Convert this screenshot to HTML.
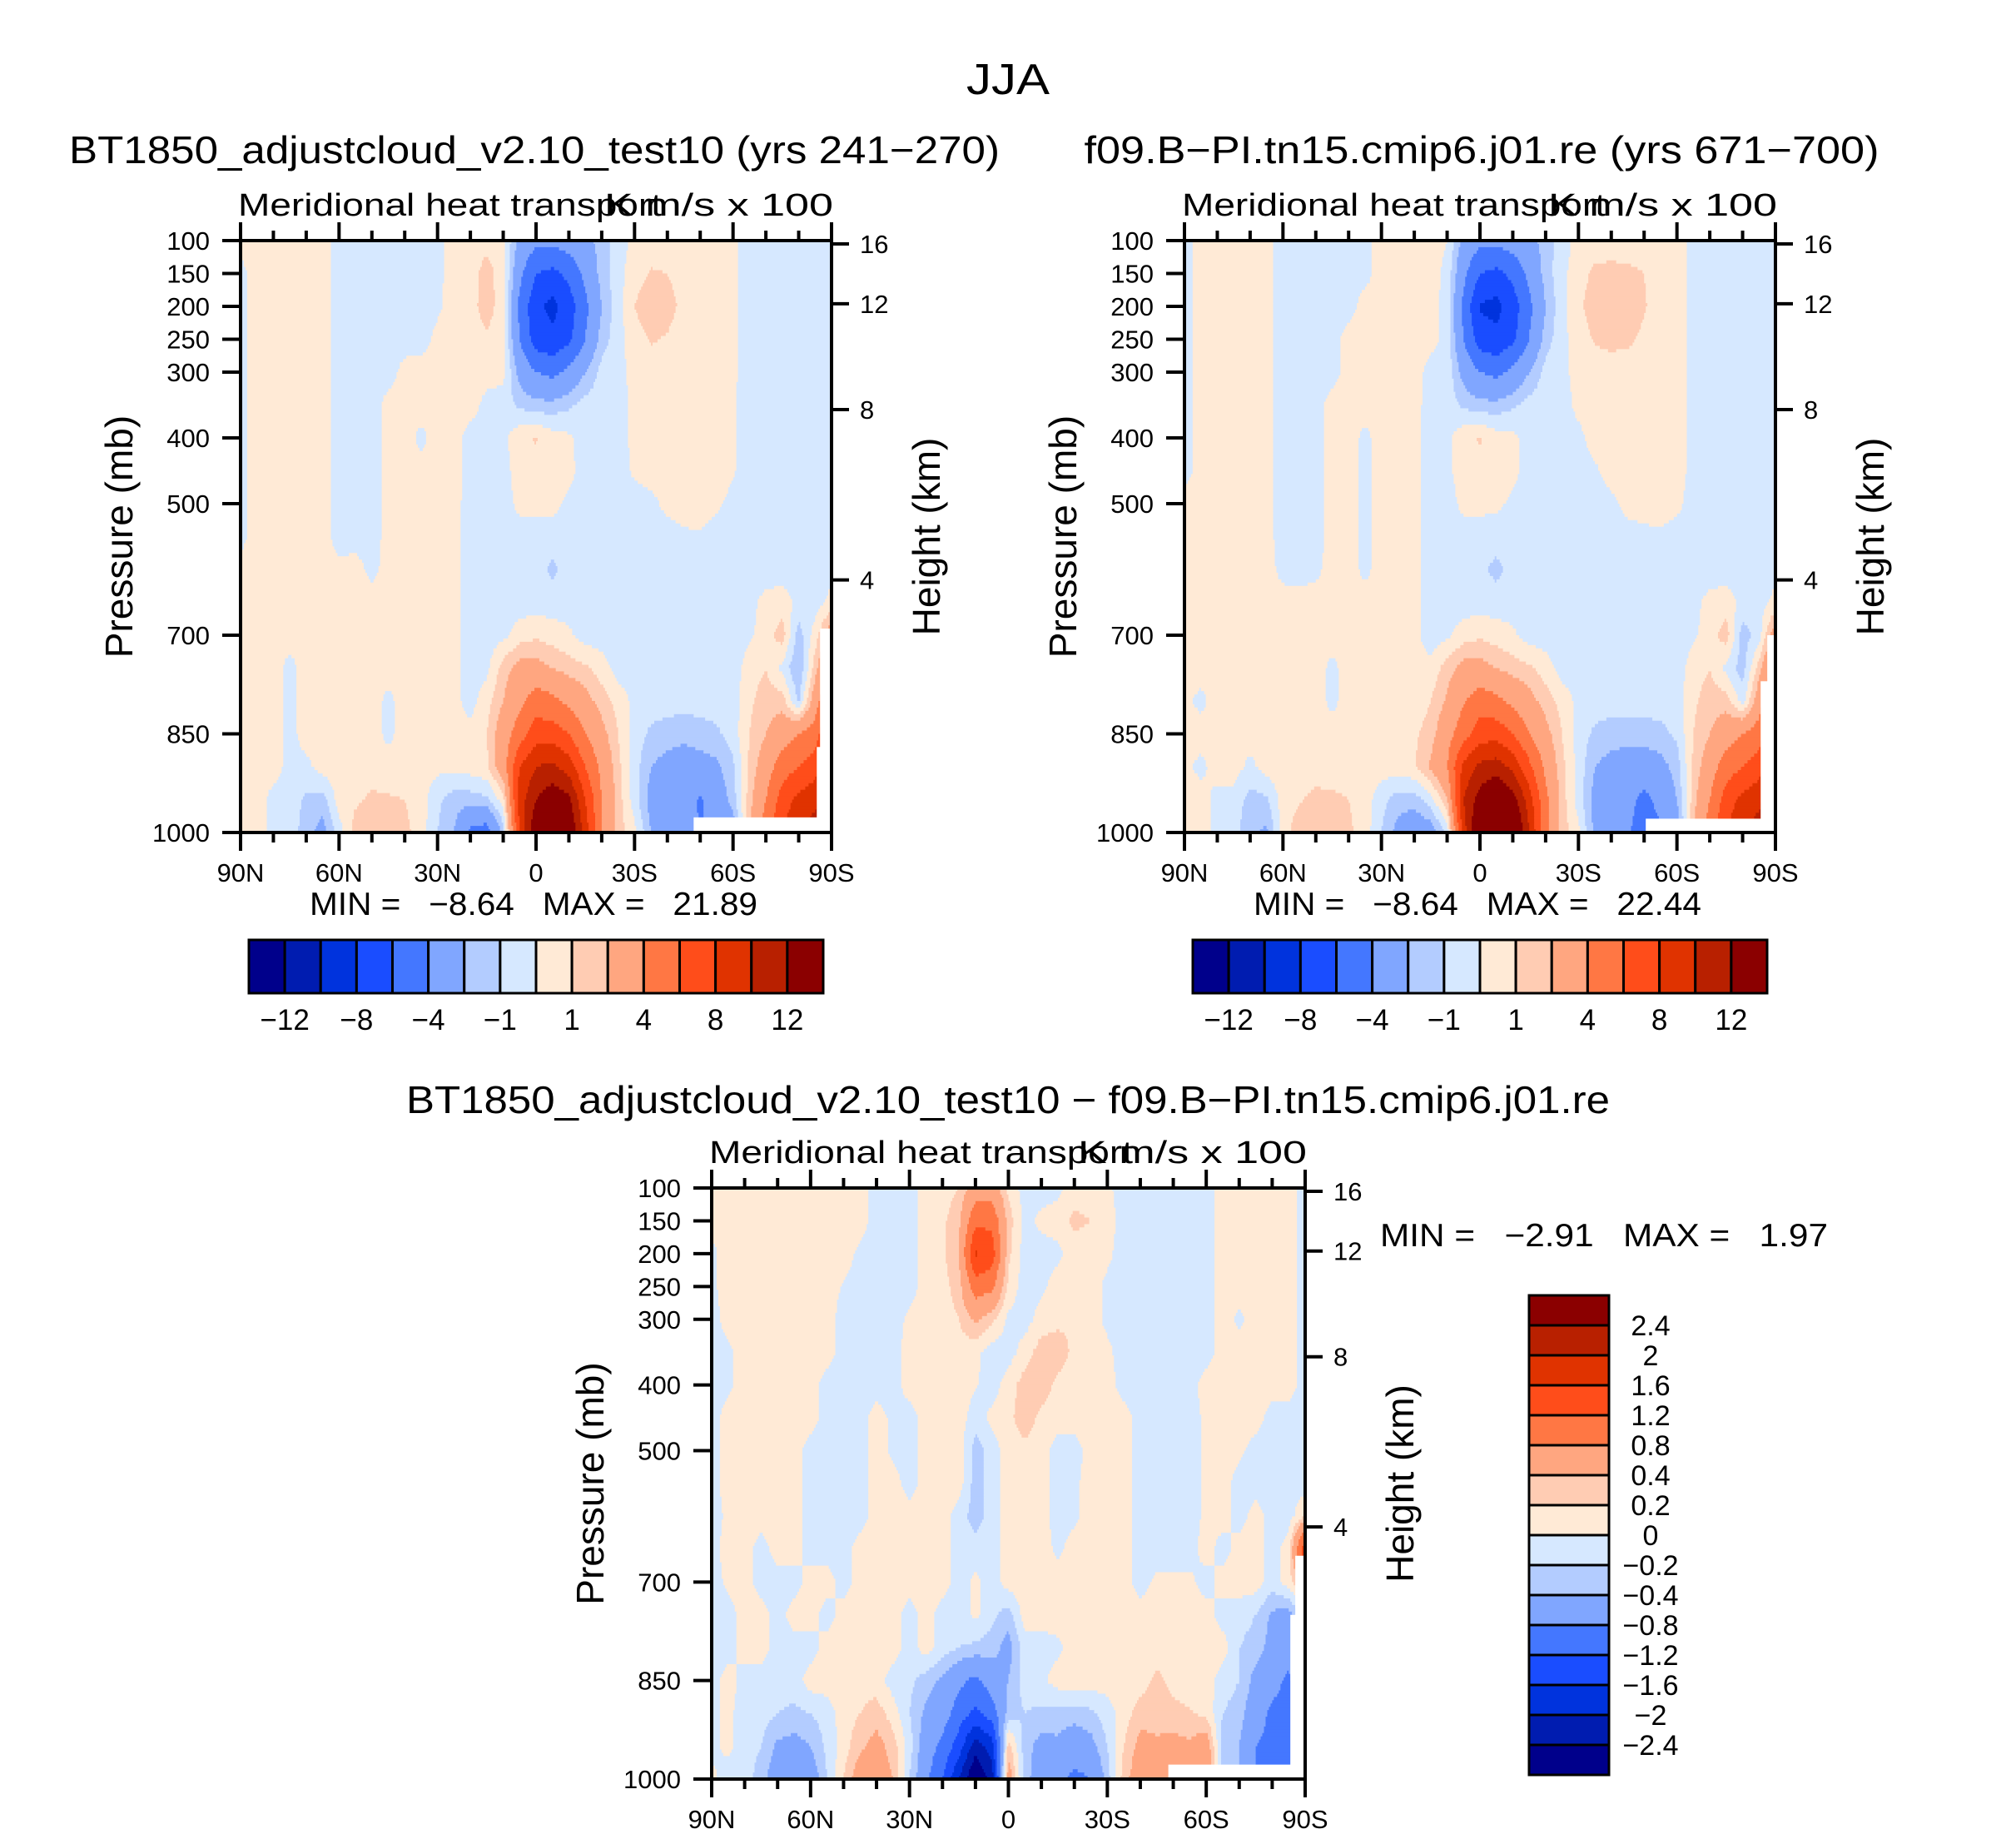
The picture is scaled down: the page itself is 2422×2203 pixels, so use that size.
<!DOCTYPE html>
<html><head><meta charset="utf-8"><title>JJA Meridional heat transport</title>
<style>
html,body{margin:0;padding:0;background:#fff;}
svg{display:block;font-family:"Liberation Sans",sans-serif;}
text{fill:#000;}
</style></head>
<body>
<svg id="fig" xmlns="http://www.w3.org/2000/svg" width="2422" height="2203" viewBox="0 0 2422 2203">
<rect x="0" y="0" width="2422" height="2203" fill="#fff"/>
<text x="1211" y="113" font-size="52" text-anchor="middle" textLength="100" lengthAdjust="spacingAndGlyphs">JJA</text>
<text x="642" y="196" font-size="46" text-anchor="middle" textLength="1118" lengthAdjust="spacingAndGlyphs">BT1850_adjustcloud_v2.10_test10 (yrs 241−270)</text>
<text x="1780" y="196" font-size="46" text-anchor="middle" textLength="955" lengthAdjust="spacingAndGlyphs">f09.B−PI.tn15.cmip6.j01.re (yrs 671−700)</text>
<text x="1211" y="1337" font-size="46" text-anchor="middle" textLength="1446" lengthAdjust="spacingAndGlyphs">BT1850_adjustcloud_v2.10_test10 − f09.B−PI.tn15.cmip6.j01.re</text>
<g id="layer"></g>
</svg>
<script>
const lats = [90,85,80,75,70,65,60,55,50,45,40,35,30,25,20,15,10,5,0,-5,-10,-15,-20,-25,-30,-35,-40,-45,-50,-55,-60,-65,-70,-75,-80,-85,-90];
const pressures = [100,150,200,250,300,350,400,450,500,550,600,650,700,750,800,850,900,950,1000];
const levels1 = [-12,-10,-8,-6,-4,-2,-1,0,1,2,4,6,8,10,12];
const levels3 = [-2.4,-2,-1.6,-1.2,-0.8,-0.4,-0.2,0,0.2,0.4,0.8,1.2,1.6,2,2.4];
const fillColors = ['#00008b','#001cb0','#0033dd','#1a4dff','#4477ff','#80a6ff','#b3ccff','#d6e8ff','#ffead6','#ffccb3','#ffa680','#ff7744','#ff4d1a','#e03300','#b82000','#8b0000'];
const cbar1Labels = ['−12','−8','−4','−1','1','4','8','12'];
const cbar3Labels = ['2.4','2','1.6','1.2','0.8','0.4','0.2','0','−0.2','−0.4','−0.8','−1.2','−1.6','−2','−2.4'];
const pressureTicks = [100,150,200,250,300,400,500,700,850,1000];
const kmTickPressures = [105,196,357,616];
const kmLabels = ['16','12','8','4'];
const latTicks = [90,80,70,60,50,40,30,20,10,0,-10,-20,-30,-40,-50,-60,-70,-80,-90];
const latLabelValues = [90,60,30,0,-30,-60,-90];
const latLabelText = ['90N','60N','30N','0','30S','60S','90S'];
const minMax1 = ['−8.64','21.89'];
const minMax2 = ['−8.64','22.44'];
const minMax3 = ['−2.91','1.97'];

const p1Values = [
[0.3,0.5,0.5,0.5,0.5,0.5,-0.5,-0.5,-0.5,-0.5,-0.5,-0.5,-0.3,0.5,0.5,0.7,0.3,-2.5,-3.5,-3.5,-3,-2.5,-1.5,-0.5,0.3,0.5,0.5,0.5,0.5,0.5,0.2,-0.5,-0.5,-0.5,-0.5,-0.5,-0.3],
[-0.3,0.5,0.5,0.5,0.5,0.5,-0.5,-0.5,-0.5,-0.5,-0.5,-0.5,-0.3,0.5,0.6,1.4,0.5,-3.5,-6,-6.5,-5.5,-3.5,-1.5,-0.4,0.6,1.1,1.0,0.6,0.5,0.5,0.2,-0.5,-0.5,-0.5,-0.5,-0.5,-0.3],
[-0.3,0.5,0.5,0.5,0.5,0.5,-0.5,-0.5,-0.5,-0.5,-0.5,-0.5,-0.2,0.5,0.6,1.5,0.4,-4.5,-7.5,-8.6,-7,-4.5,-2,-0.4,1.0,1.6,1.4,0.7,0.5,0.5,0.2,-0.5,-0.5,-0.5,-0.5,-0.5,-0.3],
[-0.3,0.5,0.5,0.5,0.5,0.5,-0.5,-0.5,-0.5,-0.5,-0.5,-0.5,0.3,0.5,0.5,0.8,0.4,-4,-7,-7.5,-6.5,-4,-1.5,-0.4,0.6,1.1,0.9,0.5,0.5,0.5,0.2,-0.5,-0.5,-0.5,-0.5,-0.5,-0.3],
[-0.3,0.5,0.5,0.5,0.5,0.5,-0.5,-0.5,-0.5,-0.5,0.4,0.5,0.5,0.5,0.5,0.5,0.3,-2.5,-4,-4.5,-3.5,-2,-0.6,-0.4,0.4,0.5,0.5,0.5,0.5,0.5,0.2,-0.5,-0.5,-0.5,-0.5,-0.5,-0.3],
[-0.3,0.5,0.5,0.5,0.5,0.5,-0.5,-0.5,-0.5,0.4,0.5,0.5,0.5,0.5,0.5,-0.4,-0.5,-1.2,-1.6,-1.6,-1.2,-0.6,-0.5,-0.5,0.3,0.5,0.5,0.5,0.5,0.5,0.1,-0.5,-0.5,-0.5,-0.5,-0.5,-0.3],
[-0.3,0.5,0.5,0.5,0.5,0.5,-0.5,-0.5,-0.5,0.4,0.5,-0.3,0.5,0.5,-0.5,-0.5,-0.3,0.7,1.1,0.5,0.2,-0.5,-0.5,-0.5,0.3,0.5,0.5,0.5,0.5,0.5,0.1,-0.5,-0.5,-0.5,-0.5,-0.5,-0.3],
[-0.3,0.5,0.5,0.5,0.5,0.5,-0.5,-0.5,-0.5,0.4,0.5,0.4,0.5,0.5,-0.5,-0.5,-0.4,0.5,0.6,0.5,0.3,-0.5,-0.5,-0.5,0.2,0.5,0.5,0.5,0.5,0.5,0.1,-0.5,-0.5,-0.5,-0.5,-0.5,-0.3],
[-0.3,0.5,0.5,0.5,0.5,0.5,-0.5,-0.5,-0.5,0.4,0.5,0.5,0.5,0.4,-0.5,-0.5,-0.5,0.3,0.4,0.3,-0.2,-0.5,-0.5,-0.5,-0.5,-0.3,0.3,0.5,0.5,0.2,-0.3,-0.5,-0.5,-0.5,-0.5,-0.5,-0.3],
[-0.3,0.5,0.5,0.5,0.5,0.5,-0.5,-0.4,-0.5,0.4,0.5,0.5,0.5,0.4,-0.5,-0.5,-0.5,-0.5,-0.5,-0.5,-0.5,-0.5,-0.5,-0.5,-0.5,-0.5,-0.5,-0.2,-0.1,-0.5,-0.5,-0.5,-0.5,-0.5,-0.5,-0.5,-0.3],
[0.3,0.5,0.5,0.5,0.5,0.5,0.3,0.4,-0.3,0.4,0.5,0.5,0.5,0.4,-0.5,-0.5,-0.5,-0.5,-0.7,-1.2,-0.6,-0.5,-0.5,-0.5,-0.5,-0.5,-0.5,-0.5,-0.5,-0.5,-0.5,-0.5,-0.5,-0.5,-0.5,-0.5,-0.3],
[0.3,0.5,0.5,0.5,0.5,0.5,0.5,0.5,0.4,0.5,0.5,0.5,0.5,0.3,-0.5,-0.5,-0.5,-0.5,-0.5,-0.5,-0.5,-0.5,-0.5,-0.5,-0.5,-0.5,-0.5,-0.5,-0.5,-0.5,-0.5,-0.3,0.3,0.5,-0.3,-0.5,0.3],
[0.3,0.5,0.5,0.5,0.5,0.5,0.5,0.5,0.5,0.5,0.5,0.5,0.5,0.3,-0.5,-0.5,-0.3,0.5,0.8,0.5,0.2,-0.5,-0.5,-0.5,-0.5,-0.5,-0.5,-0.5,-0.5,-0.5,-0.5,-0.2,0.5,1.5,-1.5,0.5,3],
[0.3,0.5,0.5,-0.4,0.5,0.5,0.5,0.5,0.5,0.5,0.5,0.5,0.5,0.3,-0.5,-0.3,1.5,2.5,2.5,2,1.5,1.2,0.5,-0.5,-0.5,-0.5,-0.5,-0.5,-0.5,-0.5,-0.5,0.5,1.0,-0.3,-2,1.5,5],
[0.3,0.5,0.5,-0.4,0.5,0.5,0.5,0.5,0.5,-0.3,0.5,0.5,0.5,0.3,-0.4,0.6,2,3.5,5,4.5,3.5,2.5,1.5,0.6,-0.3,-0.5,-0.5,-0.5,-0.5,-0.5,-0.5,0.8,1.5,1.5,-1.2,3,7],
[0.3,0.5,0.5,-0.4,0.5,0.5,0.5,0.5,0.5,-0.3,0.5,0.5,0.5,0.3,0.3,1.0,3,5,7,7,6,4,2.5,1,-0.5,-1.2,-1.5,-1.8,-1.5,-1.2,-0.5,1,2,3,4,5,9],
[0.3,0.5,0.5,-0.4,-0.3,0.5,0.5,0.5,0.5,0.5,0.5,0.5,0.3,0.3,0.5,0.8,3,8,10,10.5,9,6,3.5,1.3,-0.5,-2,-2.5,-2.5,-2.5,-2.3,-1.2,1.2,3,5,6,7,11],
[0.3,0.5,-0.4,-0.4,-1.2,-1.5,0.5,0.8,1.2,1.1,1.0,0.5,-0.8,-1.5,-1.5,-1.2,0.5,9,12,13.5,12.5,8,4,1.5,-0.5,-2.5,-3,-3.2,-4.2,-3,-1.5,1.5,4,7,8.5,9.5,12],
[0.3,0.5,-0.4,-0.5,-1.5,-2.5,-0.5,1.5,1.8,1.5,1.3,0.5,-1,-2,-4.5,-5,-1.5,8,14,15,14.5,9,4,1.5,0.3,-2,-3,-3.5,-4,-4,-3,2,5,8,10,11,12]
];

const p2Values = [
[-0.3,0.3,0.5,0.5,0.5,0.3,-0.5,-0.5,-0.5,-0.5,-0.5,-0.4,0.5,0.5,0.5,0.3,0.0,-2.5,-3.5,-3.5,-3,-2.5,-1.5,-0.5,0.4,0.5,0.5,0.5,0.5,0.5,0.4,-0.3,-0.5,-0.5,-0.5,-0.5,-0.3],
[-0.3,0.3,0.5,0.5,0.5,0.3,-0.5,-0.5,-0.5,-0.5,-0.5,-0.4,0.5,0.5,0.5,0.3,-0.2,-3.5,-6,-6.5,-5.5,-3.5,-1.5,-0.3,0.6,1.2,1.3,1.2,1.0,0.5,0.4,-0.3,-0.5,-0.5,-0.5,-0.5,-0.3],
[-0.3,0.3,0.5,0.5,0.5,0.3,-0.5,-0.5,-0.5,-0.5,-0.5,0.5,0.5,0.5,0.5,0.3,-0.3,-4.5,-8.2,-8.6,-7,-4.5,-2,-0.3,0.8,1.5,1.6,1.5,1.1,0.5,0.4,-0.3,-0.5,-0.5,-0.5,-0.5,-0.3],
[-0.3,0.3,0.5,0.5,0.5,0.3,-0.5,-0.5,-0.5,-0.5,0.5,0.5,0.5,0.5,0.5,0.3,-0.3,-4,-7,-7.5,-6.5,-4,-1.5,-0.3,0.5,1.1,1.3,1.2,0.8,0.5,0.4,-0.3,-0.5,-0.5,-0.5,-0.5,-0.3],
[-0.3,0.3,0.5,0.5,0.5,0.3,-0.5,-0.5,-0.5,-0.5,0.5,0.5,0.5,0.5,0.5,-0.4,-0.3,-2.5,-4,-4.5,-3.5,-2,-0.6,-0.3,0.4,0.5,0.5,0.5,0.5,0.5,0.4,-0.3,-0.5,-0.5,-0.5,-0.5,-0.3],
[-0.3,0.3,0.5,0.5,0.5,0.3,-0.5,-0.5,-0.5,0.5,0.5,0.5,0.5,0.5,0.4,-0.5,-0.5,-1.2,-1.6,-1.6,-1.2,-0.6,-0.5,-0.5,0.3,0.5,0.5,0.5,0.5,0.5,0.4,-0.3,-0.5,-0.5,-0.5,-0.5,-0.3],
[-0.3,0.3,0.5,0.5,0.5,0.3,-0.5,-0.5,-0.5,0.5,0.5,-0.3,0.5,0.5,0.4,-0.5,-0.3,0.7,1.1,0.5,0.3,-0.5,-0.5,-0.5,-0.3,0.5,0.5,0.5,0.5,0.5,0.4,-0.3,-0.5,-0.5,-0.5,-0.5,-0.3],
[-0.3,0.3,0.5,0.5,0.5,0.3,-0.5,-0.5,-0.5,0.5,0.5,-0.3,0.5,0.5,0.4,-0.5,-0.3,0.6,0.7,0.5,0.3,-0.5,-0.5,-0.5,-0.5,-0.2,0.5,0.5,0.5,0.5,0.4,-0.3,-0.5,-0.5,-0.5,-0.5,-0.3],
[0.3,0.5,0.5,0.5,0.5,0.3,-0.5,-0.5,-0.5,0.5,0.5,-0.3,0.5,0.5,0.4,-0.5,-0.5,0.3,0.3,0.2,-0.2,-0.5,-0.5,-0.5,-0.5,-0.5,-0.3,0.4,0.5,0.5,0.3,-0.5,-0.5,-0.5,-0.5,-0.5,-0.3],
[0.3,0.5,0.5,0.5,0.5,0.4,-0.5,-0.5,-0.5,0.5,0.5,-0.3,0.5,0.5,0.4,-0.5,-0.5,-0.5,-0.5,-0.5,-0.5,-0.5,-0.5,-0.5,-0.5,-0.5,-0.5,-0.5,-0.3,-0.2,-0.5,-0.5,-0.5,-0.5,-0.5,-0.5,-0.3],
[0.3,0.5,0.5,0.5,0.5,0.5,-0.4,-0.5,-0.3,0.5,0.5,-0.3,0.5,0.5,0.4,-0.5,-0.5,-0.5,-0.7,-1.3,-0.6,-0.5,-0.5,-0.5,-0.5,-0.5,-0.5,-0.5,-0.5,-0.5,-0.5,-0.5,-0.5,-0.5,-0.5,-0.5,-0.3],
[0.3,0.5,0.5,0.5,0.5,0.5,0.5,0.5,0.5,0.5,0.5,0.5,0.5,0.5,0.4,-0.5,-0.5,-0.5,-0.5,-0.5,-0.5,-0.5,-0.5,-0.5,-0.5,-0.5,-0.5,-0.5,-0.5,-0.5,-0.5,-0.3,0.3,0.5,-0.3,-0.5,0.3],
[0.3,0.5,0.5,0.5,0.5,0.5,0.5,0.5,0.5,0.5,0.5,0.5,0.5,0.5,0.3,-0.5,-0.2,0.5,0.8,0.5,0.2,-0.5,-0.5,-0.5,-0.5,-0.5,-0.5,-0.5,-0.5,-0.5,-0.5,-0.2,0.5,1.5,-1.5,-0.5,3],
[0.3,0.5,0.5,0.5,0.5,0.5,0.5,0.5,0.5,-0.3,0.5,0.5,0.5,0.5,0.3,0.3,1.5,2.5,2.5,2,1.5,1.2,0.5,-0.5,-0.5,-0.5,-0.5,-0.5,-0.5,-0.5,-0.5,0.5,1.0,-0.3,-1.5,1.5,5],
[0.3,-0.3,0.5,0.5,0.5,0.5,0.5,0.5,0.5,-0.3,0.5,0.5,0.5,0.5,0.3,1.0,2.2,3.8,5,4.5,3.5,2.5,1.5,0.6,-0.3,-0.5,-0.5,-0.5,-0.5,-0.5,-0.5,0.8,1.5,1.5,-0.5,3,7],
[0.3,0.5,0.5,0.5,0.5,0.5,0.5,0.5,0.5,0.5,0.5,0.5,0.5,0.4,0.8,1.5,3.2,5.2,7,7.2,6,4,2.5,1,-0.5,-1.2,-1.5,-1.6,-1.5,-1.3,-0.8,1,2,3,4,5,9],
[0.3,-0.3,0.5,0.5,-0.3,0.5,0.5,0.5,0.5,0.5,0.5,0.5,0.5,0.5,0.9,2.2,4,8.5,10.5,11,9.5,6.5,3.5,1.3,-0.3,-2,-2.5,-2.6,-2.8,-2.5,-1.5,1.2,3,5,6,7,11],
[0.3,0.5,-0.4,-0.4,-1.4,-1.2,0.5,0.9,1.3,1.2,1.0,0.5,-0.6,-1.5,-1.5,-0.5,2,10,13,14.5,13,9,4.5,1.5,-0.5,-2.5,-3,-3.5,-4.5,-3.5,-2,1.5,4,7,8.5,9.5,12],
[0.3,0.5,-0.4,-0.5,-1.8,-2.2,0.5,1.6,1.9,1.6,1.2,0.5,-1,-2.5,-3.2,-2.8,-0.8,9,15,17,15.5,10,4.5,1.5,0.3,-2.3,-3,-3.8,-4.8,-4.2,-3,2,5,8,10,11,12]
];

const p3Values = [
[0.1,0.1,0.1,0.1,0.1,0.1,0.1,0.1,0.1,0.1,-0.1,-0.1,-0.1,0.1,0.1,0.2,0.6,0.6,0.15,-0.1,-0.1,-0.05,0.1,0.1,0.05,-0.1,-0.1,-0.1,-0.1,-0.1,-0.1,0.1,0.1,0.1,0.1,0.1,-0.1],
[0.05,0.1,0.1,0.1,0.1,0.1,0.1,0.1,0.1,0.1,-0.1,-0.1,-0.1,0.1,0.15,0.35,1.1,1.1,0.3,-0.05,0.05,0.1,0.25,0.2,0.1,-0.1,-0.1,-0.1,-0.1,-0.1,-0.1,0.1,0.1,0.1,0.1,0.1,-0.1],
[-0.05,0.1,0.1,0.1,0.1,0.1,0.1,0.1,0.1,-0.05,-0.1,-0.1,-0.1,0.1,0.15,0.4,1.65,1.4,0.25,-0.1,-0.1,-0.05,0.1,0.1,0.05,-0.1,-0.1,-0.1,-0.1,-0.1,-0.1,0.1,0.1,0.1,0.1,0.1,-0.1],
[-0.05,0.1,0.1,0.1,0.1,0.1,0.1,0.1,-0.02,-0.1,-0.1,-0.1,-0.1,0.1,0.12,0.3,1.0,0.9,0.15,-0.1,-0.05,0.1,0.1,0.1,-0.05,-0.1,-0.1,-0.1,-0.1,-0.1,-0.1,0.1,0.1,0.1,0.1,0.1,-0.1],
[-0.1,0.1,0.1,0.1,0.1,0.1,0.1,0.1,-0.1,-0.1,-0.1,-0.1,0.05,0.1,0.1,0.2,0.45,0.25,-0.05,-0.1,0.1,0.15,0.2,0.1,-0.05,-0.1,-0.1,-0.1,-0.1,-0.1,-0.1,0.1,-0.05,0.1,0.1,0.1,-0.1],
[-0.1,-0.05,0.1,0.1,0.1,0.1,0.1,0.1,-0.1,-0.1,-0.1,-0.1,0.1,0.1,0.1,0.1,0.05,-0.1,-0.1,0.1,0.3,0.3,0.15,0.1,0.05,-0.1,-0.1,-0.1,-0.1,-0.1,-0.1,0.1,0.1,0.1,0.1,0.1,-0.1],
[-0.1,-0.05,0.1,0.1,0.1,0.1,0.1,-0.1,-0.1,-0.1,-0.1,-0.1,0.1,0.1,0.1,0.1,0.02,-0.1,0.1,0.3,0.3,0.15,0.1,0.1,0.1,-0.1,-0.1,-0.1,-0.1,-0.1,0.1,0.1,0.1,0.1,0.1,0.1,-0.1],
[-0.1,0.1,0.1,0.1,0.1,0.1,0.1,-0.1,-0.1,-0.1,0.1,-0.05,-0.1,0.1,0.1,0.1,-0.1,0.05,0.15,0.3,0.15,0.1,0.1,0.1,0.1,0.1,-0.1,-0.1,-0.1,-0.1,0.05,0.1,0.1,0.1,-0.1,-0.1,-0.1],
[-0.1,0.1,0.1,0.1,0.1,0.1,-0.1,-0.1,-0.1,-0.1,0.1,-0.05,-0.1,0.1,0.1,0.1,-0.3,-0.1,0.1,0.15,0.1,-0.1,-0.1,0.1,0.1,0.1,-0.1,-0.1,-0.1,-0.1,0.05,0.1,0.05,-0.1,-0.1,-0.1,-0.1],
[-0.1,0.1,0.1,0.1,0.1,0.1,-0.1,-0.1,-0.1,-0.1,0.1,0.1,-0.1,0.1,0.1,0.1,-0.3,-0.1,0.1,0.1,0.1,-0.1,-0.05,0.1,0.1,0.1,-0.1,-0.1,-0.1,-0.1,0.05,0.1,-0.1,-0.1,-0.1,-0.1,-0.1],
[-0.1,0.05,0.1,0.1,0.1,0.1,-0.1,-0.1,-0.1,-0.1,0.1,0.1,0.1,0.1,0.1,-0.1,-0.3,-0.1,0.1,0.1,0.1,-0.1,-0.05,0.1,0.1,0.1,-0.1,-0.1,-0.1,-0.1,0.05,0.1,-0.1,0.1,-0.1,-0.1,0.2],
[-0.1,0.1,0.1,-0.1,0.1,0.1,-0.1,-0.1,-0.1,0.1,0.1,0.1,0.1,0.1,0.1,-0.1,-0.1,-0.1,0.1,0.1,0.1,-0.05,0.1,0.1,0.1,0.1,-0.1,-0.1,-0.1,-0.1,0.1,-0.1,0.1,0.1,-0.1,0.1,1.6],
[-0.1,0.05,0.1,-0.1,-0.1,-0.1,0.1,0.1,-0.1,0.1,0.1,0.1,0.1,0.1,0.1,-0.1,0.05,-0.1,0.1,0.1,0.1,0.1,0.1,0.1,0.1,0.1,-0.1,0.05,0.05,0.05,-0.1,0.1,0.1,0.1,-0.1,0.1,0.5],
[-0.1,-0.1,0.1,0.1,-0.1,0.1,0.1,-0.1,0.1,0.1,0.1,0.1,-0.1,0.1,-0.1,-0.1,0.05,-0.15,-0.3,0.1,0.1,0.1,0.1,0.1,0.1,0.1,0.1,0.1,0.1,0.1,0.1,-0.1,-0.1,-0.2,-0.45,-0.5,-0.1],
[-0.1,-0.1,0.1,0.1,-0.1,-0.1,-0.1,0.1,0.1,0.1,0.1,0.1,-0.1,0.1,-0.1,-0.2,-0.25,-0.3,-0.5,-0.1,-0.1,-0.05,0.1,0.1,0.1,0.1,0.1,0.1,0.1,0.1,0.1,0.1,-0.2,-0.3,-0.5,-0.6,-0.1],
[-0.1,0.1,-0.1,-0.1,-0.1,-0.1,0.1,0.1,0.1,0.1,0.1,-0.1,-0.15,-0.3,-0.45,-0.7,-0.9,-0.6,-0.4,-0.1,-0.05,0.1,0.1,0.1,0.1,0.1,0.1,0.25,0.15,0.1,0.1,-0.1,-0.2,-0.5,-0.6,-0.9,-0.2],
[-0.05,0.05,-0.1,-0.1,-0.2,-0.25,-0.2,-0.1,0.1,0.2,0.3,0.1,-0.2,-0.45,-0.6,-1.0,-1.3,-1.0,-0.3,-0.2,-0.25,-0.3,-0.3,-0.25,-0.1,0.1,0.3,0.3,0.25,0.22,0.15,-0.2,-0.3,-0.6,-0.9,-1.1,-0.3],
[-0.05,0.05,-0.1,-0.2,-0.45,-0.5,-0.4,-0.15,0.1,0.35,0.5,0.3,-0.1,-0.6,-0.9,-1.4,-2.2,-1.8,0.3,-0.3,-0.5,-0.45,-0.6,-0.5,-0.2,0.2,0.5,0.45,0.5,0.45,0.6,-0.3,-0.4,-0.8,-0.9,-1.2,-0.5],
[0.05,-0.1,-0.1,-0.3,-0.6,-0.7,-0.6,-0.2,0.2,0.6,0.6,0.4,-0.2,-0.7,-1.2,-2.0,-2.9,-2.2,0.6,-0.3,-0.6,-0.7,-0.9,-0.8,-0.3,0.3,0.6,0.6,0.6,0.6,0.9,-0.3,-0.4,-0.8,-0.9,-1.2,-0.5]
];

const panels = [
 {name:'panel1', left:289, top:289, w:710, h:711, grid:p1Values, levels:levels1, mm:minMax1,
  missing:[[-48,-90,977,1000],[-86.5,-90,690,1000],[-85.5,-90,870,1000]]},
 {name:'panel2', left:1423, top:289, w:710, h:711, grid:p2Values, levels:levels1, mm:minMax2,
  missing:[[-50.5,-90,979,1000],[-87.5,-90,700,1000],[-85.5,-90,770,1000]]},
 {name:'panel3', left:855, top:1427, w:713, h:710, grid:p3Values, levels:levels3, mm:minMax3,
  missing:[[-48.5,-90,978,1000],[-87,-90,660,1000],[-85.5,-90,750,1000]]}
];

const NS = 'http://www.w3.org/2000/svg';
const layer = document.getElementById('layer');
function el(tag, parent){ const e=document.createElementNS(NS,tag); parent.appendChild(e); return e; }

function valueAt(grid, lat, p){
  let fx=(90-lat)/5, fy=(p-100)/50;
  let i=Math.min(35,Math.max(0,Math.floor(fx))), j=Math.min(17,Math.max(0,Math.floor(fy)));
  const tx=fx-i, ty=fy-j;
  const a=grid[j][i], b=grid[j][i+1], c=grid[j+1][i], d=grid[j+1][i+1];
  return (a*(1-tx)+b*tx)*(1-ty)+(c*(1-tx)+d*tx)*ty;
}
function levelIndex(levels, v){ let k=0; while(k<levels.length && v>=levels[k]) k++; return k; }

panels.forEach(P=>{
  const xScale = lat => P.left + (90-lat)/180*P.w;
  const yScale = p => P.top + (p-100)/900*P.h;
  const g = el('g', layer);
  
  
  const NX=360, NY=180;
  for(let r=0;r<NY;r++){
    const pa=100+r*900/NY, pb=100+(r+1)*900/NY, pm=(pa+pb)/2;
    const y0=yScale(pa), y1=yScale(pb);
    let start=0, cur=-1;
    for(let c=0;c<=NX;c++){
      let k=-2;
      if(c<NX){ const lat=90-(c+0.5)*180/NX; k=levelIndex(P.levels, valueAt(P.grid,lat,pm)); }
      if(c===0){cur=k;start=0;continue;}
      if(k!==cur){
        const la=90-start*180/NX, lb=90-c*180/NX;
        const rc=el('rect', g);
        
        
        rc.setAttribute('x', xScale(la).toFixed(2));
        rc.setAttribute('y', y0.toFixed(2));
        rc.setAttribute('width', (xScale(lb)-xScale(la)+0.6).toFixed(2));
        rc.setAttribute('height', (y1-y0+0.6).toFixed(2));
        rc.setAttribute('fill', fillColors[cur]);
        cur=k; start=c;
      }
    }
  }
  P.missing.forEach(m=>{
    const rc=el('rect', g);
    
    
    rc.setAttribute('x', xScale(m[0])); rc.setAttribute('y', yScale(m[2]));
    rc.setAttribute('width', xScale(m[1])-xScale(m[0])); rc.setAttribute('height', yScale(m[3])-yScale(m[2])+1);
    rc.setAttribute('fill', '#fff');
  });
  const ax = el('g', layer);
  
  
  const frame = el('rect', ax);
  
  
  frame.setAttribute('x', P.left); frame.setAttribute('y', P.top);
  frame.setAttribute('width', P.w); frame.setAttribute('height', P.h);
  frame.setAttribute('fill', 'none'); frame.setAttribute('stroke', '#000'); frame.setAttribute('stroke-width', '4');
  function line(x1,y1,x2,y2,name){
    const l=el('line', ax);
    
    
    l.setAttribute('x1',x1);l.setAttribute('y1',y1);l.setAttribute('x2',x2);l.setAttribute('y2',y2);
    l.setAttribute('stroke','#000');l.setAttribute('stroke-width','4');
  }
  function txt(x,y,s,size,anchor,name){
    const t=el('text', ax);
    
    
    t.setAttribute('x',x);t.setAttribute('y',y);t.setAttribute('font-size',size);t.setAttribute('text-anchor',anchor);
    t.textContent=s; return t;
  }
  pressureTicks.forEach(p=>{
    const y=yScale(p);
    line(P.left-22,y,P.left,y,'y-axis-tick');
    txt(P.left-37,y+11,String(p),31,'end','y-tick-label');
  });
  kmTickPressures.forEach((p,k)=>{
    const y=yScale(p);
    line(P.left+P.w,y,P.left+P.w+21,y,'height-axis-tick');
    txt(P.left+P.w+34,y+11,kmLabels[k],31,'start','height-tick-label');
  });
  latTicks.forEach(lat=>{
    const x=xScale(lat), major=(lat%30===0);
    const L=major?22:12;
    line(x,P.top+P.h,x,P.top+P.h+L,'x-axis-tick');
    line(x,P.top,x,P.top-L,'top-axis-tick');
  });
  latLabelValues.forEach((lat,k)=>{
    txt(xScale(lat),P.top+P.h+59,latLabelText[k],31,'middle','x-tick-label');
  });
  let t=txt(P.left-146,P.top+P.h/2,'Pressure (mb)',46,'middle','y-axis-title');
  t.setAttribute('transform','rotate(-90 '+(P.left-146)+' '+(P.top+P.h/2)+')');
  t.setAttribute('dy','16');
  t=txt(P.left+P.w+114,P.top+P.h/2,'Height (km)',46,'middle','height-axis-title');
  t.setAttribute('transform','rotate(-90 '+(P.left+P.w+114)+' '+(P.top+P.h/2)+')');
  t.setAttribute('dy','16');
  t=txt(P.left-3,P.top-30,'Meridional heat transport',38,'start','plot-subtitle');
  t.setAttribute('textLength','509'); t.setAttribute('lengthAdjust','spacingAndGlyphs');
  t=txt(P.left+P.w+2,P.top-30,'K m/s x 100',38,'end','units-label');
  t.setAttribute('textLength','275'); t.setAttribute('lengthAdjust','spacingAndGlyphs');
  let mx, my;
  if(P.name==='panel3'){ mx=1658; my=1497; } else { mx=P.left+83; my=1099; }
  t=txt(mx,my,'MIN =   '+P.mm[0]+'   MAX =   '+P.mm[1],39,'start','min-max-label');
  t.setAttribute('xml:space','preserve'); t.style.whiteSpace='pre';
  t.setAttribute('textLength','538'); t.setAttribute('lengthAdjust','spacingAndGlyphs');
});

[299,1433].forEach((cx,ci)=>{
  const g=el('g', layer);
  
  
  const bw=690/16;
  fillColors.forEach((c,k)=>{
    const r=el('rect', g);
    
    
    r.setAttribute('x', cx+k*bw); r.setAttribute('y', 1129); r.setAttribute('width', bw); r.setAttribute('height', 64);
    r.setAttribute('fill', c); r.setAttribute('stroke', '#000'); r.setAttribute('stroke-width', '3');
  });
  cbar1Labels.forEach((s,k)=>{
    const t=el('text', g);
    
    
    t.setAttribute('x', cx+(2*k+1)*bw); t.setAttribute('y', 1237);
    t.setAttribute('font-size', 35); t.setAttribute('text-anchor', 'middle');
    t.textContent=s;
  });
});

(function(){
  const g=el('g', layer);
  
  
  const top=1556, bh=36, left=1837, w=96;
  for(let k=0;k<16;k++){
    const r=el('rect', g);
    
    
    r.setAttribute('x', left); r.setAttribute('y', top+k*bh); r.setAttribute('width', w); r.setAttribute('height', bh);
    r.setAttribute('fill', fillColors[15-k]); r.setAttribute('stroke', '#000'); r.setAttribute('stroke-width', '3');
  }
  cbar3Labels.forEach((s,k)=>{
    const t=el('text', g);
    
    
    t.setAttribute('x', 1983); t.setAttribute('y', top+(k+1)*bh+12);
    t.setAttribute('font-size', 34); t.setAttribute('text-anchor', 'middle');
    t.textContent=s;
  });
})();
</script>
</body></html>
